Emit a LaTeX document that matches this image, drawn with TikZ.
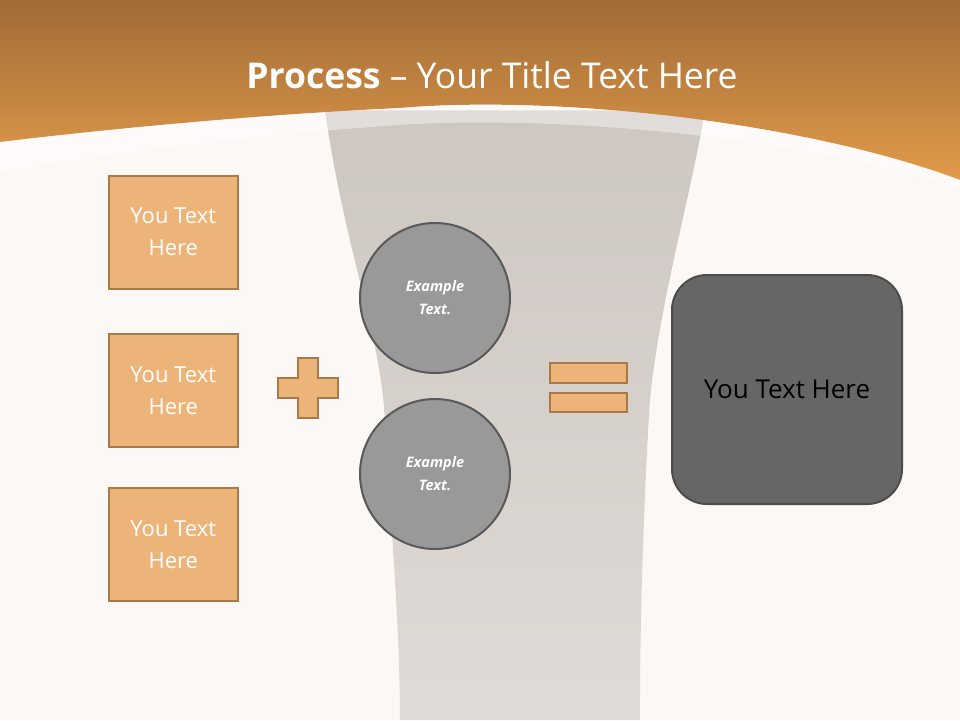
\documentclass[tikz,border=0pt]{standalone}
\usepackage{fontspec}
\setmainfont{Open Sans}
\usetikzlibrary{fadings}
\definecolor{bg}{HTML}{FCF8F5}
\definecolor{otop}{HTML}{A06B36}
\definecolor{omid}{HTML}{D38F45}
\definecolor{obot}{HTML}{E39B4B}
\definecolor{boxf}{HTML}{EDB47A}
\definecolor{boxd}{HTML}{A87A4A}
\definecolor{vase}{HTML}{CBC4BF}
\tikzfading[name=vfade,top color=transparent!5,bottom color=transparent!45]
\tikzset{
 tbox/.style={draw=boxd,line width=1.5pt,fill=boxf,minimum width=129pt,minimum height=113pt,text=white,font=\fontsize{22}{32}\selectfont,align=center,anchor=north west},
 circ/.style={circle,draw=black!65,line width=2pt,fill=black!40,minimum size=150pt,text=white,font=\fontsize{14.5}{23}\selectfont\bfseries\itshape,align=center},
 eqbar/.style={draw=boxd,line width=1.5pt,fill=boxf}
}
\begin{document}
\begin{tikzpicture}[x=1pt,y=-1pt]
\useasboundingbox (0,0) rectangle (960,720);
\fill[bg] (0,0) rectangle (960,720);
% vase
\fill[vase,path fading=vfade] (325,110) .. controls (345,250) and (380,330) .. (385,420) .. controls (390,520) and (400,620) .. (400,720) -- (640,720) .. controls (640,600) and (645,480) .. (650,400) .. controls (660,300) and (690,200) .. (705,110) -- cycle;
% header
\shade[top color=otop,middle color=omid,bottom color=obot] (0,0) -- (960,0) -- (960,180) .. controls (800,120) and (550,95) .. (400,108) .. controls (250,115) and (100,130) .. (0,142) -- cycle;
\fill[white,opacity=0.4] (0,142) .. controls (100,130) and (250,115) .. (400,108) .. controls (550,95) and (800,120) .. (960,180) -- (960,190) .. controls (800,135) and (550,115) .. (400,125) .. controls (250,135) and (100,155) .. (0,172) -- cycle;
\node[text=white,font=\fontsize{35.5}{40}\selectfont] (title) at (492,75) {\textbf{Process} -- Your Title Text Here};
\node[tbox] (b1) at (108,175) {You Text\\Here};
\node[tbox] (b2) at (108,333) {You Text\\Here};
\node[tbox] (b3) at (108,487) {You Text\\Here};
\draw[eqbar] (298,358) -- (318,358) -- (318,378) -- (338,378) -- (338,398) -- (318,398) -- (318,418) -- (298,418) -- (298,398) -- (278,398) -- (278,378) -- (298,378) -- cycle;
\node[circ] (c1) at (435,298) {Example\\Text.};
\node[circ] (c2) at (435,474) {Example\\Text.};
\draw[eqbar] (550,363) rectangle (627,383);
\draw[eqbar] (550,393) rectangle (627,412);
\node[draw=black!70,line width=2pt,fill=black!60,rounded corners=35pt,minimum width=230pt,minimum height=229pt,font=\fontsize{26}{30}\selectfont] (r) at (787,389.5) {You Text Here};
\end{tikzpicture}
\end{document}
